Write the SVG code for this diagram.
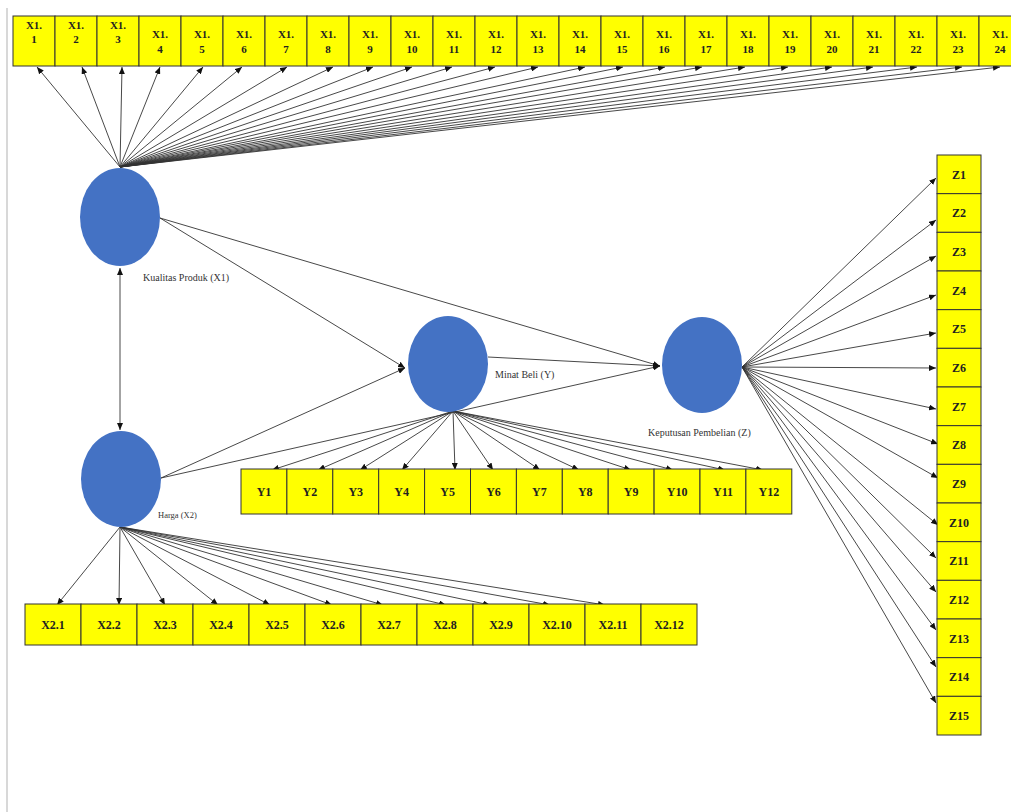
<svg xmlns="http://www.w3.org/2000/svg" width="1011" height="812" viewBox="0 0 1011 812">
<defs>
<marker id="ah" markerUnits="userSpaceOnUse" markerWidth="7" markerHeight="6" refX="7" refY="3" orient="auto-start-reverse">
<path d="M0,0 L7,3 L0,6 z" fill="#111"/>
</marker>
</defs>
<style>
.box{fill:#ffff00;stroke:#333;stroke-width:1}
.bt{font-family:"Liberation Serif",serif;font-weight:bold;font-size:11px;fill:#222;text-anchor:middle}
.bt12{font-family:"Liberation Serif",serif;font-weight:bold;font-size:12px;fill:#222;text-anchor:middle}
.lv{fill:#4472c4}
.lab{font-family:"Liberation Serif",serif;font-size:10px;fill:#333}
.c line{stroke:#333;stroke-width:0.9;marker-end:url(#ah)}
</style>
<rect width="1011" height="812" fill="#ffffff"/>
<line x1="7" y1="8" x2="7" y2="812" stroke="#d8d8d8" stroke-width="2"/>

<g id="connectors" class="c">
<line x1="120" y1="167" x2="37" y2="67"/>
<line x1="120" y1="167" x2="82" y2="67"/>
<line x1="120" y1="167" x2="122" y2="67"/>
<line x1="120" y1="167" x2="160" y2="67"/>
<line x1="120" y1="167" x2="203" y2="67"/>
<line x1="120" y1="167" x2="242" y2="67"/>
<line x1="120" y1="167" x2="287" y2="67"/>
<line x1="120" y1="167" x2="333" y2="67"/>
<line x1="120" y1="167" x2="373" y2="67"/>
<line x1="120" y1="167" x2="412" y2="67"/>
<line x1="120" y1="167" x2="452" y2="67"/>
<line x1="120" y1="167" x2="495" y2="67"/>
<line x1="120" y1="167" x2="538" y2="67"/>
<line x1="120" y1="167" x2="585" y2="67"/>
<line x1="120" y1="167" x2="623" y2="67"/>
<line x1="120" y1="167" x2="665" y2="67"/>
<line x1="120" y1="167" x2="702" y2="67"/>
<line x1="120" y1="167" x2="745" y2="67"/>
<line x1="120" y1="167" x2="788" y2="67"/>
<line x1="120" y1="167" x2="832" y2="67"/>
<line x1="120" y1="167" x2="873" y2="67"/>
<line x1="120" y1="167" x2="917" y2="67"/>
<line x1="120" y1="167" x2="962" y2="67"/>
<line x1="120" y1="167" x2="1000" y2="67"/>

<line x1="120" y1="268" x2="120" y2="430" marker-start="url(#ah)"/>
<line x1="160" y1="218" x2="405" y2="368"/>
<line x1="160" y1="218" x2="660" y2="366"/>
<line x1="161" y1="478" x2="405" y2="368"/>
<line x1="161" y1="478" x2="660" y2="366"/>
<line x1="488" y1="357" x2="660" y2="366"/>

<line x1="453" y1="411" x2="272" y2="470"/>
<line x1="453" y1="411" x2="318" y2="470"/>
<line x1="453" y1="411" x2="360" y2="470"/>
<line x1="453" y1="411" x2="402" y2="470"/>
<line x1="453" y1="411" x2="455" y2="470"/>
<line x1="453" y1="411" x2="493" y2="470"/>
<line x1="453" y1="411" x2="540" y2="470"/>
<line x1="453" y1="411" x2="579" y2="470"/>
<line x1="453" y1="411" x2="631" y2="470"/>
<line x1="453" y1="411" x2="673" y2="470"/>
<line x1="453" y1="411" x2="725" y2="470"/>
<line x1="453" y1="411" x2="763" y2="470"/>

<line x1="120" y1="527" x2="57" y2="605"/>
<line x1="120" y1="527" x2="119" y2="605"/>
<line x1="120" y1="527" x2="165" y2="605"/>
<line x1="120" y1="527" x2="218" y2="605"/>
<line x1="120" y1="527" x2="270" y2="605"/>
<line x1="120" y1="527" x2="332" y2="605"/>
<line x1="120" y1="527" x2="383" y2="605"/>
<line x1="120" y1="527" x2="446" y2="605"/>
<line x1="120" y1="527" x2="490" y2="605"/>
<line x1="120" y1="527" x2="550" y2="605"/>
<line x1="120" y1="527" x2="605" y2="605"/>

<line x1="742" y1="367" x2="936" y2="178"/>
<line x1="742" y1="367" x2="936" y2="220"/>
<line x1="742" y1="367" x2="936" y2="256"/>
<line x1="742" y1="367" x2="936" y2="295"/>
<line x1="742" y1="367" x2="936" y2="333"/>
<line x1="742" y1="367" x2="936" y2="368"/>
<line x1="742" y1="367" x2="936" y2="409"/>
<line x1="742" y1="367" x2="938" y2="444"/>
<line x1="742" y1="367" x2="938" y2="478"/>
<line x1="742" y1="367" x2="938" y2="525"/>
<line x1="742" y1="367" x2="936" y2="558"/>
<line x1="742" y1="367" x2="936" y2="592"/>
<line x1="742" y1="367" x2="936" y2="630"/>
<line x1="742" y1="367" x2="936" y2="667"/>
<line x1="742" y1="367" x2="936" y2="703"/>
</g>

<g id="X1">
<ellipse class="lv" cx="120" cy="217" rx="40" ry="49"/>
<text class="lab" x="143" y="281">Kualitas Produk (X1)</text>
</g>
<g id="X2">
<ellipse class="lv" cx="121" cy="479" rx="40" ry="48"/>
<text class="lab" x="158" y="518" style="font-size:8.5px">Harga (X2)</text>
</g>
<g id="Y">
<ellipse class="lv" cx="448" cy="364" rx="40" ry="48"/>
<text class="lab" x="495" y="378">Minat Beli (Y)</text>
</g>
<g id="Z">
<ellipse class="lv" cx="702" cy="365" rx="40" ry="48"/>
<text class="lab" x="648" y="436">Keputusan Pembelian (Z)</text>
</g>

<g id="X1-indicators">
<g id="X1.1"><rect class="box" x="13" y="16" width="42" height="50"/><text class="bt" x="34" y="29">X1.</text><text class="bt" x="34" y="43">1</text></g>
<g id="X1.2"><rect class="box" x="55" y="16" width="42" height="50"/><text class="bt" x="76" y="29">X1.</text><text class="bt" x="76" y="43">2</text></g>
<g id="X1.3"><rect class="box" x="97" y="16" width="42" height="50"/><text class="bt" x="118" y="29">X1.</text><text class="bt" x="118" y="43">3</text></g>
<g id="X1.4"><rect class="box" x="139" y="16" width="42" height="50"/><text class="bt" x="160" y="38">X1.</text><text class="bt" x="160" y="53">4</text></g>
<g id="X1.5"><rect class="box" x="181" y="16" width="42" height="50"/><text class="bt" x="202" y="38">X1.</text><text class="bt" x="202" y="53">5</text></g>
<g id="X1.6"><rect class="box" x="223" y="16" width="42" height="50"/><text class="bt" x="244" y="38">X1.</text><text class="bt" x="244" y="53">6</text></g>
<g id="X1.7"><rect class="box" x="265" y="16" width="42" height="50"/><text class="bt" x="286" y="38">X1.</text><text class="bt" x="286" y="53">7</text></g>
<g id="X1.8"><rect class="box" x="307" y="16" width="42" height="50"/><text class="bt" x="328" y="38">X1.</text><text class="bt" x="328" y="53">8</text></g>
<g id="X1.9"><rect class="box" x="349" y="16" width="42" height="50"/><text class="bt" x="370" y="38">X1.</text><text class="bt" x="370" y="53">9</text></g>
<g id="X1.10"><rect class="box" x="391" y="16" width="42" height="50"/><text class="bt" x="412" y="38">X1.</text><text class="bt" x="412" y="53">10</text></g>
<g id="X1.11"><rect class="box" x="433" y="16" width="42" height="50"/><text class="bt" x="454" y="38">X1.</text><text class="bt" x="454" y="53">11</text></g>
<g id="X1.12"><rect class="box" x="475" y="16" width="42" height="50"/><text class="bt" x="496" y="38">X1.</text><text class="bt" x="496" y="53">12</text></g>
<g id="X1.13"><rect class="box" x="517" y="16" width="42" height="50"/><text class="bt" x="538" y="38">X1.</text><text class="bt" x="538" y="53">13</text></g>
<g id="X1.14"><rect class="box" x="559" y="16" width="42" height="50"/><text class="bt" x="580" y="38">X1.</text><text class="bt" x="580" y="53">14</text></g>
<g id="X1.15"><rect class="box" x="601" y="16" width="42" height="50"/><text class="bt" x="622" y="38">X1.</text><text class="bt" x="622" y="53">15</text></g>
<g id="X1.16"><rect class="box" x="643" y="16" width="42" height="50"/><text class="bt" x="664" y="38">X1.</text><text class="bt" x="664" y="53">16</text></g>
<g id="X1.17"><rect class="box" x="685" y="16" width="42" height="50"/><text class="bt" x="706" y="38">X1.</text><text class="bt" x="706" y="53">17</text></g>
<g id="X1.18"><rect class="box" x="727" y="16" width="42" height="50"/><text class="bt" x="748" y="38">X1.</text><text class="bt" x="748" y="53">18</text></g>
<g id="X1.19"><rect class="box" x="769" y="16" width="42" height="50"/><text class="bt" x="790" y="38">X1.</text><text class="bt" x="790" y="53">19</text></g>
<g id="X1.20"><rect class="box" x="811" y="16" width="42" height="50"/><text class="bt" x="832" y="38">X1.</text><text class="bt" x="832" y="53">20</text></g>
<g id="X1.21"><rect class="box" x="853" y="16" width="42" height="50"/><text class="bt" x="874" y="38">X1.</text><text class="bt" x="874" y="53">21</text></g>
<g id="X1.22"><rect class="box" x="895" y="16" width="42" height="50"/><text class="bt" x="916" y="38">X1.</text><text class="bt" x="916" y="53">22</text></g>
<g id="X1.23"><rect class="box" x="937" y="16" width="42" height="50"/><text class="bt" x="958" y="38">X1.</text><text class="bt" x="958" y="53">23</text></g>
<g id="X1.24"><rect class="box" x="979" y="16" width="42" height="50"/><text class="bt" x="1000" y="38">X1.</text><text class="bt" x="1000" y="53">24</text></g>
</g>

<g id="Y-indicators">
<g id="Y1"><rect class="box" x="241" y="469" width="45.9" height="45"/><text class="bt12" x="264" y="496">Y1</text></g>
<g id="Y2"><rect class="box" x="286.9" y="469" width="45.9" height="45"/><text class="bt12" x="309.9" y="496">Y2</text></g>
<g id="Y3"><rect class="box" x="332.8" y="469" width="45.9" height="45"/><text class="bt12" x="355.8" y="496">Y3</text></g>
<g id="Y4"><rect class="box" x="378.7" y="469" width="45.9" height="45"/><text class="bt12" x="401.7" y="496">Y4</text></g>
<g id="Y5"><rect class="box" x="424.6" y="469" width="45.9" height="45"/><text class="bt12" x="447.6" y="496">Y5</text></g>
<g id="Y6"><rect class="box" x="470.5" y="469" width="45.9" height="45"/><text class="bt12" x="493.5" y="496">Y6</text></g>
<g id="Y7"><rect class="box" x="516.4" y="469" width="45.9" height="45"/><text class="bt12" x="539.4" y="496">Y7</text></g>
<g id="Y8"><rect class="box" x="562.3" y="469" width="45.9" height="45"/><text class="bt12" x="585.3" y="496">Y8</text></g>
<g id="Y9"><rect class="box" x="608.2" y="469" width="45.9" height="45"/><text class="bt12" x="631.2" y="496">Y9</text></g>
<g id="Y10"><rect class="box" x="654.1" y="469" width="45.9" height="45"/><text class="bt12" x="677.1" y="496">Y10</text></g>
<g id="Y11"><rect class="box" x="700" y="469" width="45.9" height="45"/><text class="bt12" x="723" y="496">Y11</text></g>
<g id="Y12"><rect class="box" x="745.9" y="469" width="45.9" height="45"/><text class="bt12" x="768.9" y="496">Y12</text></g>
</g>

<g id="X2-indicators">
<g id="X2.1"><rect class="box" x="25" y="604" width="56" height="41"/><text class="bt12" x="53" y="629">X2.1</text></g>
<g id="X2.2"><rect class="box" x="81" y="604" width="56" height="41"/><text class="bt12" x="109" y="629">X2.2</text></g>
<g id="X2.3"><rect class="box" x="137" y="604" width="56" height="41"/><text class="bt12" x="165" y="629">X2.3</text></g>
<g id="X2.4"><rect class="box" x="193" y="604" width="56" height="41"/><text class="bt12" x="221" y="629">X2.4</text></g>
<g id="X2.5"><rect class="box" x="249" y="604" width="56" height="41"/><text class="bt12" x="277" y="629">X2.5</text></g>
<g id="X2.6"><rect class="box" x="305" y="604" width="56" height="41"/><text class="bt12" x="333" y="629">X2.6</text></g>
<g id="X2.7"><rect class="box" x="361" y="604" width="56" height="41"/><text class="bt12" x="389" y="629">X2.7</text></g>
<g id="X2.8"><rect class="box" x="417" y="604" width="56" height="41"/><text class="bt12" x="445" y="629">X2.8</text></g>
<g id="X2.9"><rect class="box" x="473" y="604" width="56" height="41"/><text class="bt12" x="501" y="629">X2.9</text></g>
<g id="X2.10"><rect class="box" x="529" y="604" width="56" height="41"/><text class="bt12" x="557" y="629">X2.10</text></g>
<g id="X2.11"><rect class="box" x="585" y="604" width="56" height="41"/><text class="bt12" x="613" y="629">X2.11</text></g>
<g id="X2.12"><rect class="box" x="641" y="604" width="56" height="41"/><text class="bt12" x="669" y="629">X2.12</text></g>
</g>

<g id="Z-indicators">
<g id="Z1"><rect class="box" x="937" y="155" width="44" height="38.67"/><text class="bt12" x="959" y="178.5">Z1</text></g>
<g id="Z2"><rect class="box" x="937" y="193.67" width="44" height="38.67"/><text class="bt12" x="959" y="217.2">Z2</text></g>
<g id="Z3"><rect class="box" x="937" y="232.33" width="44" height="38.67"/><text class="bt12" x="959" y="255.8">Z3</text></g>
<g id="Z4"><rect class="box" x="937" y="271" width="44" height="38.67"/><text class="bt12" x="959" y="294.5">Z4</text></g>
<g id="Z5"><rect class="box" x="937" y="309.67" width="44" height="38.67"/><text class="bt12" x="959" y="333.2">Z5</text></g>
<g id="Z6"><rect class="box" x="937" y="348.33" width="44" height="38.67"/><text class="bt12" x="959" y="371.8">Z6</text></g>
<g id="Z7"><rect class="box" x="937" y="387" width="44" height="38.67"/><text class="bt12" x="959" y="410.5">Z7</text></g>
<g id="Z8"><rect class="box" x="937" y="425.67" width="44" height="38.67"/><text class="bt12" x="959" y="449.2">Z8</text></g>
<g id="Z9"><rect class="box" x="937" y="464.33" width="44" height="38.67"/><text class="bt12" x="959" y="487.8">Z9</text></g>
<g id="Z10"><rect class="box" x="937" y="503" width="44" height="38.67"/><text class="bt12" x="959" y="526.5">Z10</text></g>
<g id="Z11"><rect class="box" x="937" y="541.67" width="44" height="38.67"/><text class="bt12" x="959" y="565.2">Z11</text></g>
<g id="Z12"><rect class="box" x="937" y="580.33" width="44" height="38.67"/><text class="bt12" x="959" y="603.8">Z12</text></g>
<g id="Z13"><rect class="box" x="937" y="619" width="44" height="38.67"/><text class="bt12" x="959" y="642.5">Z13</text></g>
<g id="Z14"><rect class="box" x="937" y="657.67" width="44" height="38.67"/><text class="bt12" x="959" y="681.2">Z14</text></g>
<g id="Z15"><rect class="box" x="937" y="696.33" width="44" height="38.67"/><text class="bt12" x="959" y="719.8">Z15</text></g>
</g>
</svg>
